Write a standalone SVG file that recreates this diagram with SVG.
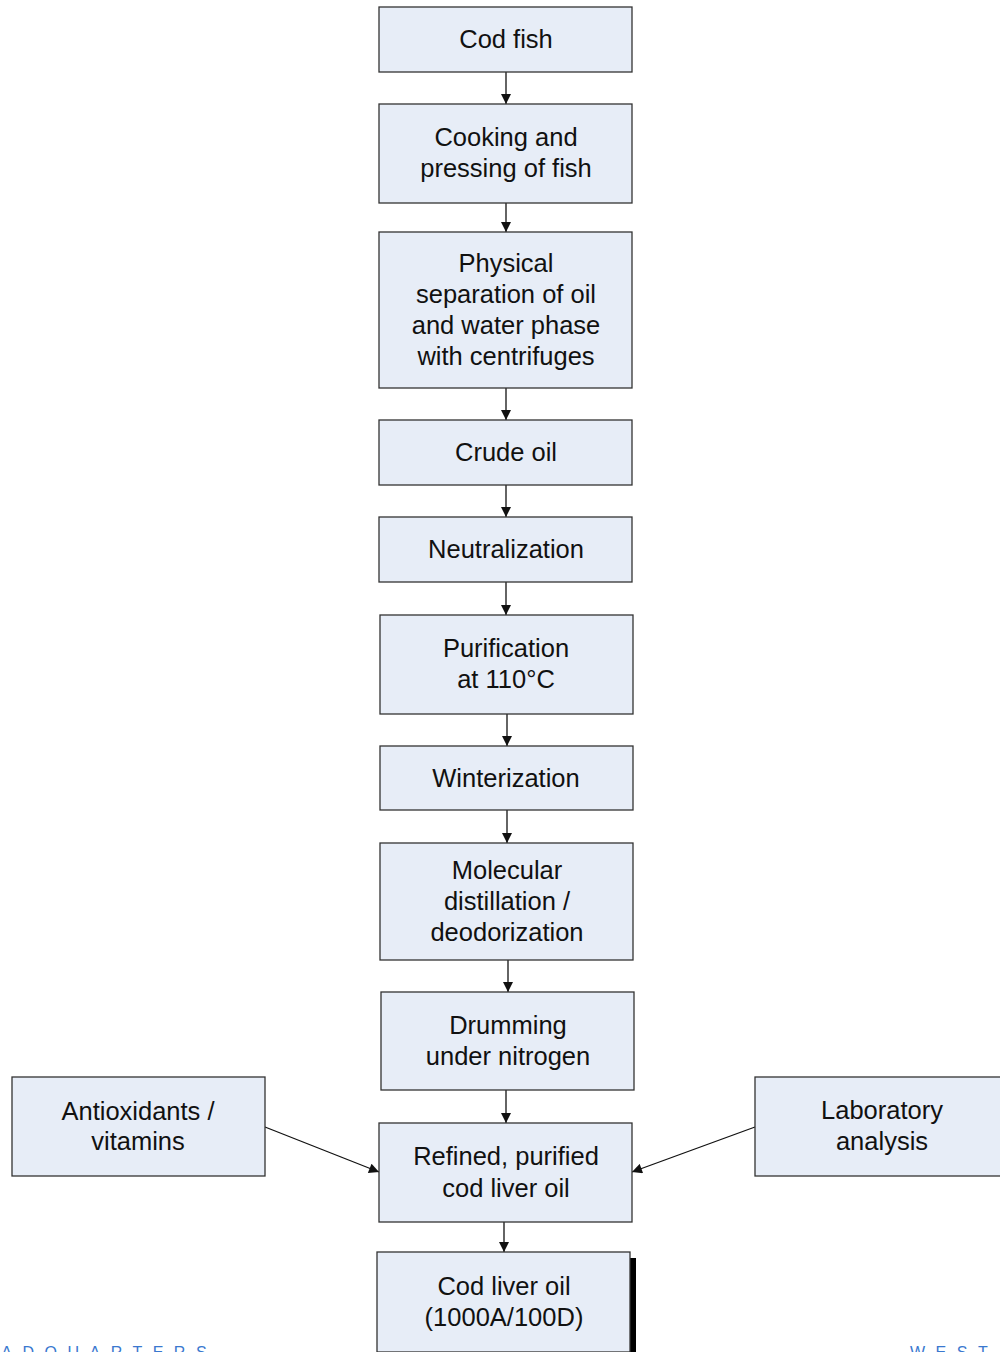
<svg xmlns="http://www.w3.org/2000/svg" width="1000" height="1352" viewBox="0 0 1000 1352">
<style>
.box{fill:#e7edf7;stroke:#333;stroke-width:1.3}
.t{font-family:"Liberation Sans",Arial,sans-serif;font-size:25.5px;fill:#111;text-anchor:middle}
.c{stroke:#111;stroke-width:1.3;fill:none;marker-end:url(#ah)}
.foot{font-family:"Liberation Sans",Arial,sans-serif;font-size:16px;fill:#3a78cf;letter-spacing:10.5px}
</style>
<defs>
<marker id="ah" viewBox="0 0 10 10" refX="10" refY="5" markerWidth="11" markerHeight="10" markerUnits="userSpaceOnUse" orient="auto">
<path d="M0,0 L10,5 L0,10 z" fill="#111"/>
</marker>
</defs>
<rect width="1000" height="1352" fill="#fff"/>
<g id="connectors">
<line class="c" x1="506" y1="72" x2="506" y2="104"/>
<line class="c" x1="506" y1="203" x2="506" y2="232"/>
<line class="c" x1="506" y1="388" x2="506" y2="420"/>
<line class="c" x1="506" y1="485" x2="506" y2="517"/>
<line class="c" x1="506" y1="582" x2="506" y2="615"/>
<line class="c" x1="507" y1="714" x2="507" y2="746"/>
<line class="c" x1="507" y1="810" x2="507" y2="843"/>
<line class="c" x1="508" y1="960" x2="508" y2="992"/>
<line class="c" x1="506" y1="1090" x2="506" y2="1123"/>
<line class="c" x1="504" y1="1222" x2="504" y2="1252"/>
<line class="c" x1="265" y1="1127" x2="379" y2="1172"/>
<line class="c" x1="755" y1="1127" x2="632" y2="1172"/>
</g>
<g id="n1"><rect class="box" x="379" y="7" width="253" height="65"/><text class="t" x="506" y="48">Cod fish</text></g>
<g id="n2"><rect class="box" x="379" y="104" width="253" height="99"/><text class="t" x="506" y="146">Cooking and</text><text class="t" x="506" y="177">pressing of fish</text></g>
<g id="n3"><rect class="box" x="379" y="232" width="253" height="156"/><text class="t" x="506" y="272">Physical</text><text class="t" x="506" y="303">separation of oil</text><text class="t" x="506" y="334">and water phase</text><text class="t" x="506" y="365">with centrifuges</text></g>
<g id="n4"><rect class="box" x="379" y="420" width="253" height="65"/><text class="t" x="506" y="461">Crude oil</text></g>
<g id="n5"><rect class="box" x="379" y="517" width="253" height="65"/><text class="t" x="506" y="558">Neutralization</text></g>
<g id="n6"><rect class="box" x="380" y="615" width="253" height="99"/><text class="t" x="506" y="657">Purification</text><text class="t" x="506" y="688">at 110°C</text></g>
<g id="n7"><rect class="box" x="380" y="746" width="253" height="64"/><text class="t" x="506" y="787">Winterization</text></g>
<g id="n8"><rect class="box" x="380" y="843" width="253" height="117"/><text class="t" x="507" y="879">Molecular</text><text class="t" x="507" y="910">distillation /</text><text class="t" x="507" y="941">deodorization</text></g>
<g id="n9"><rect class="box" x="381" y="992" width="253" height="98"/><text class="t" x="508" y="1034">Drumming</text><text class="t" x="508" y="1065">under nitrogen</text></g>
<g id="n10"><rect class="box" x="379" y="1123" width="253" height="99"/><text class="t" x="506" y="1165">Refined, purified</text><text class="t" x="506" y="1197">cod liver oil</text></g>
<g id="n11"><rect x="383" y="1258" width="253" height="100" fill="#000"/><rect class="box" x="377" y="1252" width="253" height="100"/><text class="t" x="504" y="1295">Cod liver oil</text><text class="t" x="504" y="1326">(1000A/100D)</text></g>
<g id="n12"><rect class="box" x="12" y="1077" width="253" height="99"/><text class="t" x="138" y="1120">Antioxidants /</text><text class="t" x="138" y="1150">vitamins</text></g>
<g id="n13"><rect class="box" x="755" y="1077" width="253" height="99"/><text class="t" x="882" y="1119">Laboratory</text><text class="t" x="882" y="1150">analysis</text></g>
<text class="foot" x="-42" y="1358">HEADQUARTERS</text>
<text class="foot" x="910" y="1358">WEST</text>
</svg>
